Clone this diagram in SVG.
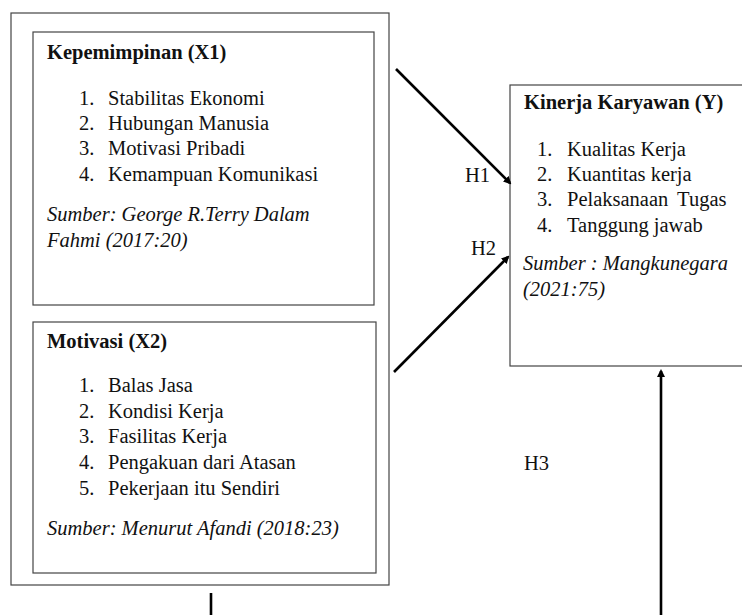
<svg xmlns="http://www.w3.org/2000/svg" width="742" height="615" viewBox="0 0 742 615">
<style>
.box{fill:#fff;stroke:#444;stroke-width:1.2}
.t{font-family:"Liberation Serif","Times New Roman",serif;font-size:20.5px;fill:#111}
.b{font-weight:bold}
.i{font-style:italic}
.c{stroke:#000;stroke-width:2.6;fill:none}
</style>
<defs>
<marker id="ah" markerWidth="8" markerHeight="8" refX="6" refY="4" orient="auto" markerUnits="userSpaceOnUse" viewBox="0 0 8 8">
<path d="M0,0 L8,4 L0,8 Z" fill="#000"/>
</marker>
</defs>
<rect width="742" height="615" fill="#fff"/>
<g id="outer">
<rect class="box" x="11" y="13" width="378" height="572"/>
</g>
<g id="x1">
<rect class="box" x="33" y="32" width="341" height="273"/>
<text class="t b" x="47" y="59">Kepemimpinan (X1)</text>
<text class="t" x="79" y="105">1.</text><text class="t" x="108" y="105">Stabilitas Ekonomi</text>
<text class="t" x="79" y="130">2.</text><text class="t" x="108" y="130">Hubungan Manusia</text>
<text class="t" x="79" y="155">3.</text><text class="t" x="108" y="155">Motivasi Pribadi</text>
<text class="t" x="79" y="181">4.</text><text class="t" x="108" y="181">Kemampuan Komunikasi</text>
<text class="t i" x="47" y="221">Sumber: George R.Terry Dalam</text>
<text class="t i" x="47" y="247">Fahmi (2017:20)</text>
</g>
<g id="x2">
<rect class="box" x="33" y="322" width="343" height="251"/>
<text class="t b" x="47" y="348">Motivasi (X2)</text>
<text class="t" x="79" y="392">1.</text><text class="t" x="108" y="392">Balas Jasa</text>
<text class="t" x="79" y="418">2.</text><text class="t" x="108" y="418">Kondisi Kerja</text>
<text class="t" x="79" y="443">3.</text><text class="t" x="108" y="443">Fasilitas Kerja</text>
<text class="t" x="79" y="469">4.</text><text class="t" x="108" y="469">Pengakuan dari Atasan</text>
<text class="t" x="79" y="495">5.</text><text class="t" x="108" y="495">Pekerjaan itu Sendiri</text>
<text class="t i" x="47" y="535">Sumber: Menurut Afandi (2018:23)</text>
</g>
<g id="y">
<rect class="box" x="510" y="85" width="240" height="281"/>
<text class="t b" x="524" y="109">Kinerja Karyawan (Y)</text>
<text class="t" x="537" y="156">1.</text><text class="t" x="567" y="156">Kualitas Kerja</text>
<text class="t" x="537" y="181">2.</text><text class="t" x="567" y="181">Kuantitas kerja</text>
<text class="t" x="537" y="206">3.</text><text class="t" x="567" y="206" word-spacing="4">Pelaksanaan Tugas</text>
<text class="t" x="537" y="232">4.</text><text class="t" x="567" y="232">Tanggung jawab</text>
<text class="t i" x="523" y="270">Sumber : Mangkunegara</text>
<text class="t i" x="523" y="296">(2021:75)</text>
</g>
<g id="connectors">
<line class="c" x1="396" y1="69" x2="510" y2="183" marker-end="url(#ah)"/>
<line class="c" x1="394" y1="372" x2="508" y2="257" marker-end="url(#ah)"/>
<line class="c" x1="661" y1="615" x2="661" y2="371" marker-end="url(#ah)"/>
<line class="c" x1="211" y1="593" x2="211" y2="615"/>
<text class="t" x="465" y="182">H1</text>
<text class="t" x="471" y="255">H2</text>
<text class="t" x="524" y="470">H3</text>
</g>
</svg>
